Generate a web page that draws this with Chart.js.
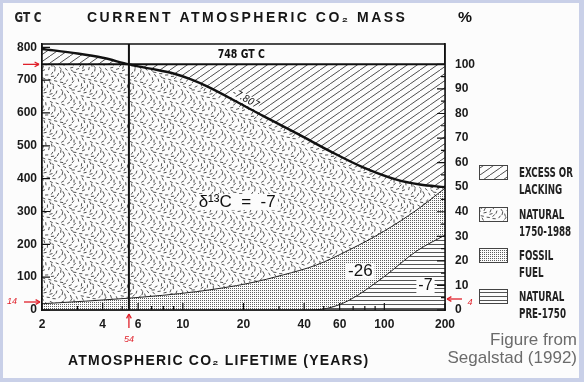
<!DOCTYPE html>
<html>
<head>
<meta charset="utf-8">
<script src="https://cdn.jsdelivr.net/npm/chart.js@4.4.1/dist/chart.umd.min.js"></script>
<style>
html, body { margin: 0; padding: 0; background: #c9d0e8; }
#wrap { width: 584px; height: 382px; }
</style>
</head>
<body>
<div id="wrap"><canvas id="co2Chart" width="584" height="382"></canvas></div>
<script>
// values (lifetime in years, mass in GT C)
var totalYears = [2, 3, 4, 5.4, 6.9, 8.9, 10.9, 13.2, 19.2, 25, 37, 54, 78, 116, 150, 200];
var totalMass = [795, 781, 768, 748, 735, 721, 703, 681, 629, 591, 537, 483, 435, 396, 382, 374];
var fossilTopYears = [2, 5.4, 11.7, 21.5, 31.5, 46, 67, 99, 145, 200];
var fossilTopMass = [19, 36, 56, 82, 107, 137, 183, 239, 305, 371];
var fossilLowYears = [2, 40, 52, 67, 99, 145, 200];
var fossilLowMass = [0, 0, 5, 30, 100, 180, 228];
var currentMass = 748;
var lifetimeMark = 5.4;
var yearRange = [2, 200];
var xTickLabels = [2, 4, 6, 10, 20, 40, 60, 100, 200];
var xMinorTicks = [3, 5, 7, 8, 9, 30, 50, 70, 80, 90];
var massTicks = [0, 100, 200, 300, 400, 500, 600, 700, 800];
var pctTicks = [0, 10, 20, 30, 40, 50, 60, 70, 80, 90, 100];
var legendItems = [['EXCESS OR', 'LACKING'], ['NATURAL', '1750-1988'], ['FOSSIL', 'FUEL'], ['NATURAL', 'PRE-1750']];

var massMax = 810;
var ctx = document.getElementById('co2Chart').getContext('2d');

function pts(xs, ys) {
    return xs.map(function(x, i) { return { x: x, y: ys[i] }; });
}

// petits motifs pour les zones
function tile(w, h, paint) {
    var c = document.createElement('canvas');
    c.width = w; c.height = h;
    var g = c.getContext('2d');
    g.fillStyle = '#fcfcfc';
    g.fillRect(0, 0, w, h);
    paint(g, w, h);
    return ctx.createPattern(c, 'repeat');
}

var hatchFill = tile(10, 7, function(g, w, h) {
    g.strokeStyle = '#3a3a3a';
    g.lineWidth = 0.9;
    [-w, 0, w].forEach(function(o) {
        g.beginPath(); g.moveTo(o, h); g.lineTo(o + w, 0); g.stroke();
    });
});

var dashFill = tile(40, 40, function(g, w, h) {
    g.strokeStyle = '#505050';
    g.lineWidth = 1;
    for (var i = 1; i <= 78; i++) {
        var px = ((0.5 + i * 0.7548776662) % 1) * w;
        var py = ((0.5 + i * 0.5698402910) % 1) * h;
        var a = ((i * 0.381966) % 1) * Math.PI;
        var dx = Math.cos(a) * 1.6, dy = Math.sin(a) * 1.6;
        [-w, 0, w].forEach(function(ox) {
            [-h, 0, h].forEach(function(oy) {
                g.beginPath();
                g.moveTo(px + ox - dx, py + oy - dy);
                g.lineTo(px + ox + dx, py + oy + dy);
                g.stroke();
            });
        });
    }
});

var dotFill = tile(2, 2, function(g) {
    g.fillStyle = '#5e5e5e';
    g.fillRect(0, 0, 1, 1);
});

var lineFill = tile(4, 4, function(g) {
    g.fillStyle = '#555';
    g.fillRect(0, 0, 4, 1);
});

var legendFills = [hatchFill, dashFill, dotFill, lineFill];

function fitText(c, str, x, y, width, font, color, align) {
    c.save();
    c.font = font;
    c.fillStyle = color;
    c.textBaseline = 'middle';
    c.textAlign = 'left';
    var w = c.measureText(str).width;
    var left = align === 'right' ? x - width : (align === 'center' ? x - width / 2 : x);
    if (w < width && str.length > 1) {
        c.letterSpacing = ((width - w) / (str.length - 1)).toFixed(2) + 'px';
        c.fillText(str, left, y);
    } else {
        c.translate(left, y);
        c.scale(width / w, 1);
        c.fillText(str, 0, 0);
    }
    c.restore();
}

function boxedText(c, str, x, y, font) {
    c.save();
    c.font = font;
    c.textAlign = 'center';
    c.textBaseline = 'middle';
    var w = c.measureText(str).width;
    c.fillStyle = '#fcfcfc';
    c.fillRect(x - w / 2 - 2, y - 8, w + 4, 16);
    c.fillStyle = '#111';
    c.fillText(str, x, y);
    c.restore();
}

function redArrow(c, x1, y1, x2, y2) {
    var a = Math.atan2(y2 - y1, x2 - x1);
    c.beginPath(); c.moveTo(x1, y1); c.lineTo(x2, y2); c.stroke();
    c.beginPath();
    c.moveTo(x2, y2);
    c.lineTo(x2 - 5 * Math.cos(a - 0.5), y2 - 5 * Math.sin(a - 0.5));
    c.moveTo(x2, y2);
    c.lineTo(x2 - 5 * Math.cos(a + 0.5), y2 - 5 * Math.sin(a + 0.5));
    c.stroke();
}

var narrow = '"Liberation Sans Narrow", "DejaVu Sans Condensed", sans-serif';
var plain = '"Liberation Sans", Arial, sans-serif';

var decorPlugin = {
    id: 'decor',
    beforeDraw: function(chart) {
        var c = chart.ctx;
        c.save();
        c.fillStyle = '#c9d0e8';
        c.fillRect(0, 0, chart.width, chart.height);
        c.fillStyle = '#fcfcfc';
        c.fillRect(3, 3, 576, 375);
        c.restore();
    },
    afterDatasetsDraw: function(chart) {
        var c = chart.ctx, a = chart.chartArea;
        var sx = chart.scales.x, sy = chart.scales.y, sp = chart.scales.y2;
        c.save();
        c.strokeStyle = '#111';
        c.lineWidth = 1.5;
        c.strokeRect(a.left, a.top, a.right - a.left, a.bottom - a.top);
        // petites graduations vers l'intérieur
        c.lineWidth = 1.2;
        c.beginPath();
        massTicks.forEach(function(v) {
            var y = sy.getPixelForValue(v);
            c.moveTo(a.left, y); c.lineTo(a.left + 8, y);
        });
        pctTicks.forEach(function(v) {
            var y = sp.getPixelForValue(v);
            c.moveTo(a.right, y); c.lineTo(a.right - 8, y);
            var y5 = sp.getPixelForValue(v + 5);
            if (v < 100) { c.moveTo(a.right, y5); c.lineTo(a.right - 4, y5); }
        });
        xTickLabels.concat(xMinorTicks).forEach(function(v) {
            var x = sx.getPixelForValue(v);
            var len = xTickLabels.indexOf(v) >= 0 ? 7 : 4;
            c.moveTo(x, a.bottom); c.lineTo(x, a.bottom - len);
        });
        c.stroke();

        // textes dans le graphique
        fitText(c, '748 GT C', sx.getPixelForValue(19.5), sy.getPixelForValue(777), 47, 'bold 13px ' + narrow, '#111', 'center');
        c.save();
        c.translate(sx.getPixelForValue(20.5), sy.getPixelForValue(642));
        c.rotate(0.5);
        c.font = 'italic 10px ' + narrow;
        c.textAlign = 'center';
        c.textBaseline = 'middle';
        c.fillStyle = '#fcfcfc';
        c.fillRect(-15, -5, 30, 10);
        c.fillStyle = '#111';
        c.fillText('-7.807', 0, 0);
        c.restore();
        boxedText(c, 'δ¹³C  =  -7', sx.getPixelForValue(18.6), sy.getPixelForValue(329), '17px ' + plain);
        boxedText(c, '-26', sx.getPixelForValue(76), sy.getPixelForValue(119), '17px ' + plain);
        boxedText(c, '-7', sx.getPixelForValue(160), sy.getPixelForValue(73), '16px ' + plain);
        c.restore();
    },
    afterDraw: function(chart) {
        var c = chart.ctx;
        c.save();
        fitText(c, 'GT C', 28, 18, 27, 'bold 14px ' + narrow, '#222', 'center');
        fitText(c, 'CURRENT ATMOSPHERIC CO₂ MASS', 87, 18, 318, 'bold 14px ' + plain, '#151515', 'left');
        fitText(c, '%', 465, 18, 14, 'bold 15px ' + plain, '#111', 'center');
        fitText(c, 'ATMOSPHERIC CO₂ LIFETIME (YEARS)', 68, 361, 300, 'bold 14px ' + plain, '#151515', 'left');

        // légende
        var tops = [165, 207, 248, 289];
        c.font = 'bold 14px ' + narrow;
        var k = 54 / c.measureText('EXCESS OR').width;
        legendItems.forEach(function(item, i) {
            c.fillStyle = legendFills[i];
            c.fillRect(479, tops[i], 28, 14);
            c.strokeStyle = '#444';
            c.lineWidth = 1;
            c.strokeRect(479.5, tops[i] + 0.5, 28, 14);
            c.save();
            c.fillStyle = '#222';
            c.textBaseline = 'middle';
            c.translate(519, tops[i] + 8);
            c.scale(k, 1);
            c.fillText(item[0], 0, 0);
            c.fillText(item[1], 0, 17);
            c.restore();
        });

        c.font = '17px ' + plain;
        c.fillStyle = '#6b6b6b';
        c.textAlign = 'right';
        c.textBaseline = 'middle';
        c.fillText('Figure from', 577, 340);
        c.fillText('Segalstad (1992)', 577, 358);

        // annotations rouges
        c.strokeStyle = '#e0202a';
        c.fillStyle = '#e0202a';
        c.lineWidth = 1.3;
        var sy = chart.scales.y, sx = chart.scales.x;
        var y748 = sy.getPixelForValue(currentMass);
        redArrow(c, 23, y748, 39, y748);
        redArrow(c, 24, 302, 40, 302);
        redArrow(c, 462, 299, 447, 299);
        var x54 = sx.getPixelForValue(lifetimeMark);
        redArrow(c, x54, 328, x54, 314);
        c.font = 'italic 9px ' + plain;
        c.textAlign = 'center';
        c.fillText('14', 12, 301);
        c.fillText('4', 470, 302);
        c.fillText('54', x54, 339);
        c.restore();
    }
};

new Chart(ctx, {
    type: 'line',
    data: {
        datasets: [
            {
                label: 'Excess or lacking',
                data: pts(yearRange, [currentMass, currentMass]),
                borderColor: '#111',
                borderWidth: 2,
                pointRadius: 0,
                fill: { target: 1, above: hatchFill, below: hatchFill }
            },
            {
                label: 'Natural 1750-1988',
                data: pts(totalYears, totalMass),
                borderColor: '#111',
                borderWidth: 2.4,
                pointRadius: 0,
                cubicInterpolationMode: 'monotone',
                fill: { target: 2, above: dashFill, below: dashFill }
            },
            {
                label: 'Fossil fuel',
                data: pts(fossilTopYears, fossilTopMass),
                borderColor: '#222',
                borderWidth: 1,
                pointRadius: 0,
                cubicInterpolationMode: 'monotone',
                fill: { target: 3, above: dotFill, below: dotFill }
            },
            {
                label: 'Natural pre-1750',
                data: pts(fossilLowYears, fossilLowMass),
                borderColor: '#222',
                borderWidth: 1,
                pointRadius: 0,
                cubicInterpolationMode: 'monotone',
                fill: { target: 'origin', above: lineFill, below: lineFill }
            },
            {
                label: 'Lifetime',
                data: pts([lifetimeMark, lifetimeMark], [0, massMax]),
                borderColor: '#111',
                borderWidth: 2,
                pointRadius: 0,
                fill: false
            }
        ]
    },
    options: {
        responsive: false,
        animation: false,
        layout: { padding: { top: 44, left: 0, right: 0, bottom: 0 } },
        plugins: {
            legend: { display: false },
            tooltip: { enabled: false },
            filler: { drawTime: 'beforeDatasetsDraw' }
        },
        scales: {
            x: {
                type: 'logarithmic',
                min: yearRange[0],
                max: yearRange[1],
                afterFit: function(s) { s.height = 72; },
                afterBuildTicks: function(s) { s.ticks = xTickLabels.map(function(v) { return { value: v }; }); },
                ticks: {
                    autoSkip: false,
                    maxRotation: 0,
                    padding: 7,
                    color: '#1a1a1a',
                    font: { family: plain, size: 12, weight: 'bold' },
                    callback: function(v) { return String(v); }
                },
                grid: { drawOnChartArea: false, drawTicks: false },
                border: { color: '#111', width: 1.5 }
            },
            y: {
                min: 0,
                max: massMax,
                afterFit: function(s) { s.width = 42; },
                afterBuildTicks: function(s) { s.ticks = massTicks.map(function(v) { return { value: v }; }); },
                ticks: {
                    padding: 5,
                    color: '#1a1a1a',
                    font: { family: plain, size: 12, weight: 'bold' }
                },
                grid: { drawOnChartArea: false, drawTicks: false },
                border: { color: '#111', width: 1.5 }
            },
            y2: {
                position: 'right',
                min: 0,
                max: massMax / currentMass * 100,
                afterFit: function(s) { s.width = 139; },
                afterBuildTicks: function(s) { s.ticks = pctTicks.map(function(v) { return { value: v }; }); },
                ticks: {
                    padding: 10,
                    color: '#1a1a1a',
                    font: { family: plain, size: 12, weight: 'bold' }
                },
                grid: { drawOnChartArea: false, drawTicks: false },
                border: { color: '#111', width: 1.5 }
            }
        }
    },
    plugins: [decorPlugin]
});
</script>
</body>
</html>
